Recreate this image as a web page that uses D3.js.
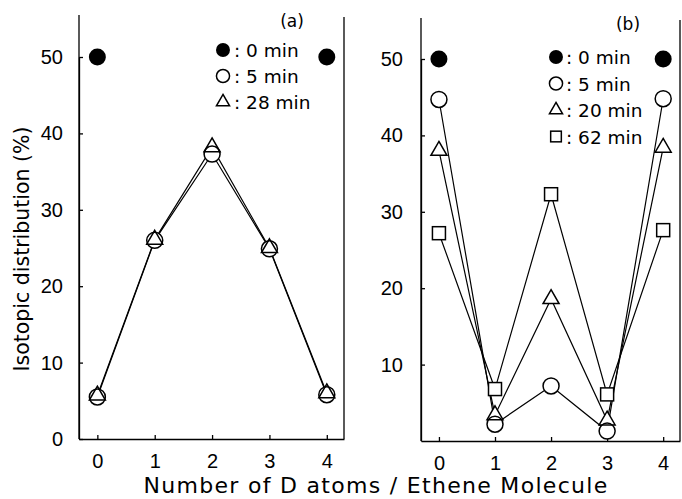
<!DOCTYPE html>
<html>
<head>
    <title>Isotopic distribution</title>
    <style>
        body { margin: 0; background: #fff; }
        svg { font-family: 'DejaVu Sans', sans-serif; }
        .axis path, .axis line { stroke: #000; stroke-width: 1.3; }
        .axis text { font-size: 20px; fill: #000; }
    </style>
</head>
<body>
    <div id="chart"></div>
    <script src="https://d3js.org/d3.v7.min.js"></script>
    <script>
        // number of D atoms per ethene molecule
        const dAtoms = [0, 1, 2, 3, 4];
        const xTicks = [0, 1, 2, 3, 4];
        const yTicksA = [0, 10, 20, 30, 40, 50];
        const yTicksB = [10, 20, 30, 40, 50];

        // panel (a)
        const a0min = [50, null, null, null, 50];
        const a5min = [5.5, 26.0, 37.3, 24.9, 5.8];
        const a28min = [5.7, 26.1, 38.2, 25.0, 6.0];
        const legendA = [": 0 min", ": 5 min", ": 28 min"];

        // panel (b)
        const b0min = [50, null, null, null, 50];
        const b5min = [44.7, 2.2, 7.2, 1.3, 44.8];
        const b20min = [38.0, 3.4, 18.6, 2.7, 38.4];
        const b62min = [27.2, 6.8, 32.3, 6.1, 27.6];
        const legendB = [": 0 min", ": 5 min", ": 20 min", ": 62 min"];

        const [width, height] = [682, 499];

        const svg = d3.select("#chart")
                        .append("svg")
                        .attr("width", width)
                        .attr("height", height);

        // marker drawing helper, k scales the size (legend marks are smaller)
        function marker(g, kind, cx, cy, bg, k) {
            const fill = bg ? "#fff" : "none";
            const stroke = bg ? "none" : "#000";
            if (kind === "filled") {
                if (!bg) g.append("circle").attr("cx", cx).attr("cy", cy).attr("r", 8.5 * k).style("fill", "#000");
            } else if (kind === "circle") {
                g.append("circle").attr("cx", cx).attr("cy", cy).attr("r", 8 * k)
                    .style("fill", fill).style("stroke", stroke).style("stroke-width", 1.5);
            } else if (kind === "triangle") {
                const s = 16 * k, h = s * Math.sqrt(3) / 2;
                const p = `M${cx},${cy - h * 2 / 3}L${cx + s / 2},${cy + h / 3}L${cx - s / 2},${cy + h / 3}Z`;
                g.append("path").attr("d", p)
                    .style("fill", fill).style("stroke", stroke).style("stroke-width", 1.5);
            } else if (kind === "square") {
                const a = 13 * k;
                g.append("rect").attr("x", cx - a / 2).attr("y", cy - a / 2)
                    .attr("width", a).attr("height", a)
                    .style("fill", fill).style("stroke", stroke).style("stroke-width", 1.5);
            }
        }

        function drawPanel(opt) {
            const x = d3.scaleLinear().domain([-0.32, 4.3]).range([opt.left, opt.right]);
            const y = d3.scaleLinear().domain([0, 50]).range([opt.bottom, opt.bottom - 382]);

            // bottom axis
            svg.append("g")
                .attr("class", "axis")
                .attr("transform", `translate(0, ${opt.bottom})`)
                .call(d3.axisBottom(x).tickValues(xTicks).tickFormat(d3.format("d"))
                    .tickSizeInner(-4).tickSizeOuter(0).tickPadding(15));

            // left axis
            svg.append("g")
                .attr("class", "axis")
                .attr("transform", `translate(${opt.left}, 0)`)
                .call(d3.axisLeft(y).tickValues(opt.yTicks).tickFormat(d3.format("d"))
                    .tickSizeInner(-4).tickSizeOuter(0).tickPadding(opt.yPad));
            svg.append("line")
                .attr("x1", opt.left).attr("x2", opt.left)
                .attr("y1", y(0)).attr("y2", opt.top)
                .style("stroke", "#000").style("stroke-width", 1.3);

            // right border
            svg.append("line")
                .attr("x1", opt.right).attr("x2", opt.right)
                .attr("y1", opt.bottom).attr("y2", opt.top + 2)
                .style("stroke", "#000").style("stroke-width", 1.3);

            const line = d3.line()
                .defined(d => d[1] != null)
                .x(d => x(d[0]))
                .y(d => y(d[1]));

            const g = svg.append("g");
            opt.series.forEach(s => {
                if (!s.line) return;
                g.append("path")
                    .datum(dAtoms.map((d, i) => [d, s.values[i]]))
                    .attr("d", line)
                    .style("fill", "none")
                    .style("stroke", "#000")
                    .style("stroke-width", 1.2);
            });
            // white backgrounds first, then outlines so overlapping marks stay visible
            [true, false].forEach(bg => {
                opt.series.forEach(s => {
                    s.values.forEach((v, i) => {
                        if (v == null) return;
                        marker(g, s.kind, x(dAtoms[i]), y(v), bg, 1);
                    });
                });
            });

            // panel label and legend
            svg.append("text")
                .attr("x", opt.tagX).attr("y", opt.tagY)
                .attr("text-anchor", "middle")
                .style("font-size", "17px")
                .text(opt.tag);

            opt.series.forEach((s, i) => {
                const ly = opt.legY + i * opt.legStep;
                [true, false].forEach(bg => marker(svg, s.kind, opt.legX, ly, bg, 0.82));
                svg.append("text")
                    .attr("x", opt.legX + opt.legGap).attr("y", ly + 7)
                    .style("font-size", "18.5px")
                    .text(opt.labels[i]);
            });
        }

        drawPanel({
            left: 79, right: 344, top: 15, bottom: 439, yTicks: yTicksA, yPad: 16,
            tag: "(a)", tagX: 292, tagY: 27, legX: 223, legY: 50, legStep: 26, legGap: 11,
            labels: legendA,
            series: [
                { values: a0min, kind: "filled", line: false },
                { values: a5min, kind: "circle", line: true },
                { values: a28min, kind: "triangle", line: true }
            ]
        });

        drawPanel({
            left: 421, right: 680, top: 18, bottom: 441, yTicks: yTicksB, yPad: 18,
            tag: "(b)", tagX: 628, tagY: 30, legX: 556, legY: 57, legStep: 26.5, legGap: 10,
            labels: legendB,
            series: [
                { values: b0min, kind: "filled", line: false },
                { values: b5min, kind: "circle", line: true },
                { values: b20min, kind: "triangle", line: true },
                { values: b62min, kind: "square", line: true }
            ]
        });

        // axis titles
        svg.append("text")
            .attr("x", 376).attr("y", 493)
            .attr("text-anchor", "middle")
            .style("font-size", "22px")
            .style("letter-spacing", "1.3px")
            .text("Number of D atoms / Ethene Molecule");

        svg.append("text")
            .attr("transform", "translate(29, 249) rotate(-90)")
            .attr("text-anchor", "middle")
            .style("font-size", "20.5px")
            .text("Isotopic distribution (%)");
    </script>
</body>
</html>
